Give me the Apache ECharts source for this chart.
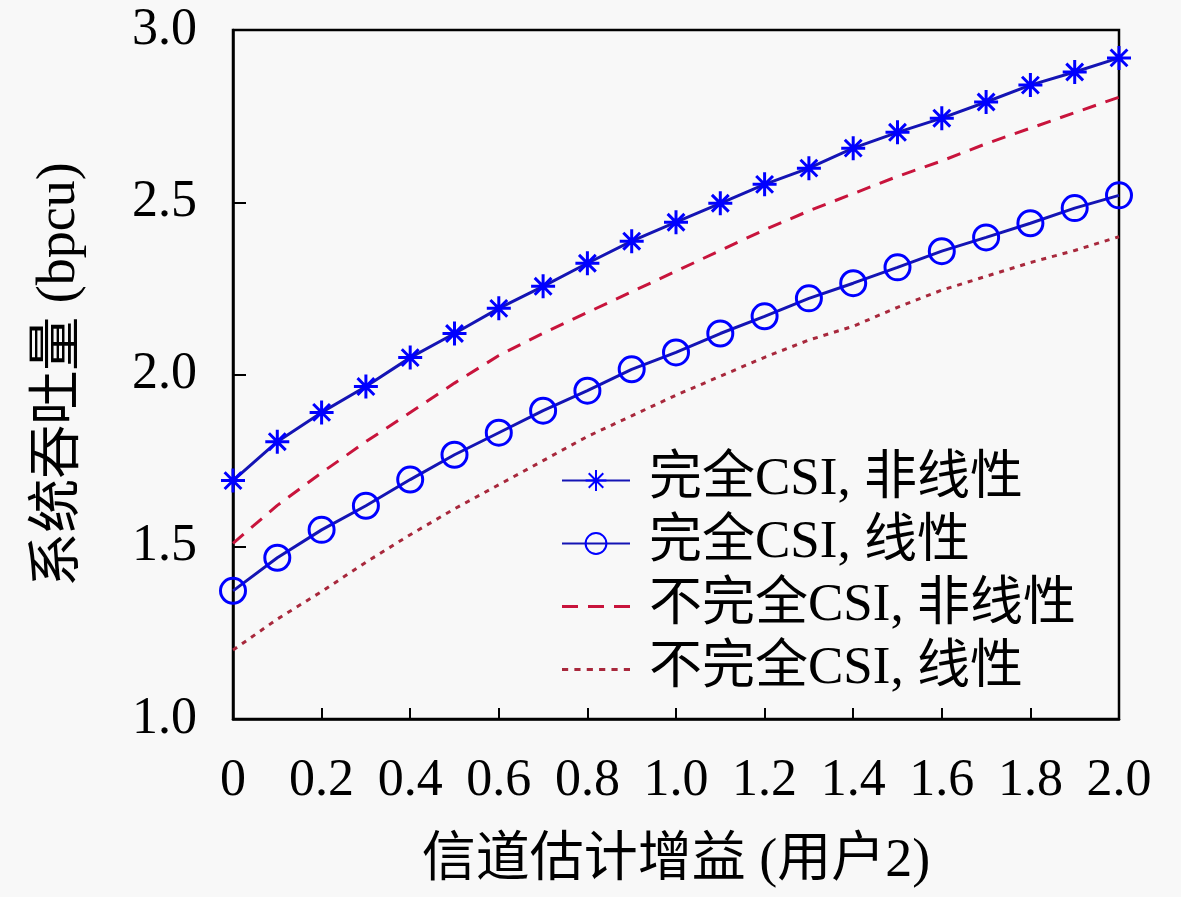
<!DOCTYPE html>
<html><head><meta charset="utf-8">
<script src="https://cdn.jsdelivr.net/npm/echarts@6/dist/echarts.min.js"></script>
<style>html,body{margin:0;padding:0;background:#f8f8f8;}#c{width:1181px;height:897px;}</style>
</head><body><div id="c"></div>
<script>
var xValues = [0,0.1,0.2,0.3,0.4,0.5,0.6,0.7,0.8,0.9,1.0,1.1,1.2,1.3,1.4,1.5,1.6,1.7,1.8,1.9,2.0];
var perfectNonlinear = [1.692,1.805,1.890,1.965,2.049,2.119,2.192,2.256,2.323,2.387,2.442,2.497,2.552,2.599,2.657,2.703,2.744,2.791,2.840,2.878,2.919];
var perfectLinear = [1.372,1.468,1.549,1.619,1.695,1.767,1.831,1.895,1.953,2.015,2.064,2.119,2.169,2.221,2.265,2.311,2.358,2.398,2.439,2.483,2.520];
var imperfectNonlinear = [1.51,1.62,1.715,1.805,1.89,1.975,2.055,2.12,2.18,2.24,2.30,2.36,2.42,2.475,2.525,2.575,2.62,2.67,2.715,2.76,2.805];
var imperfectLinear = [1.20,1.29,1.37,1.455,1.535,1.61,1.68,1.75,1.82,1.88,1.94,1.995,2.05,2.10,2.14,2.195,2.245,2.285,2.325,2.36,2.40];
var seriesNames = ['完全CSI, 非线性','完全CSI, 线性','不完全CSI, 非线性','不完全CSI, 线性'];
var xTitle = '信道估计增益 (用户2)';
var yTitle = '系统吞吐量 (bpcu)';

function pairs(ys){ return xValues.map(function(x,i){return [x, ys[i]];}); }
var FONT = '"Liberation Serif","Noto Sans CJK SC",serif';
var asterisk = 'path://M0,-10L0,10M-10,0L10,0M-7,-7L7,7M-7,7L7,-7';
var dashIcon = 'path://M0,0h16v3h-16zM26,0h16v3h-16zM52,0h16v3h-16z';
var dotIcon = 'path://M0,0h6v3h-6zM12,0h6v3h-6zM24,0h6v3h-6zM36,0h6v3h-6zM48,0h6v3h-6zM60,0h6v3h-6z';

var chart = echarts.init(document.getElementById('c'));
chart.setOption({
  backgroundColor: '#f8f8f8',
  animation: false,
  grid: {left: 233, right: 62, top: 30, bottom: 178, show: true, borderColor: '#000', borderWidth: 2.5, backgroundColor: 'transparent'},
  xAxis: {
    type: 'value', min: 0, max: 2, interval: 0.2,
    name: xTitle, nameLocation: 'middle', nameGap: 116,
    nameTextStyle: {fontFamily: FONT, fontSize: 54, color: '#000'},
    axisLine: {show: true, lineStyle: {color: '#000', width: 2.5}},
    axisTick: {show: true, inside: true, length: 11, lineStyle: {color: '#000', width: 2}},
    axisLabel: {fontFamily: FONT, fontSize: 52, color: '#000', margin: 36,
      formatter: function(v){ return v === 0 ? '0' : v.toFixed(1); }},
    splitLine: {show: false}
  },
  yAxis: {
    type: 'value', min: 1, max: 3, interval: 0.5,
    name: yTitle, nameLocation: 'middle', nameGap: 146, nameRotate: 90,
    nameTextStyle: {fontFamily: FONT, fontSize: 54, color: '#000'},
    axisLine: {show: true, lineStyle: {color: '#000', width: 2.5}},
    axisTick: {show: true, inside: true, length: 13, lineStyle: {color: '#000', width: 2}},
    axisLabel: {fontFamily: FONT, fontSize: 52, color: '#000', margin: 36,
      formatter: function(v){ return v.toFixed(1); }},
    splitLine: {show: false}
  },
  legend: {
    left: 556, top: 448, orient: 'vertical', itemWidth: 68, itemHeight: 26, itemGap: 8,
    textStyle: {fontFamily: FONT, fontSize: 53, color: '#000', lineHeight: 55, padding: [0,0,0,14]},
    data: [
      {name: seriesNames[0]},
      {name: seriesNames[1]},
      {name: seriesNames[2], icon: dashIcon, itemStyle: {color: '#c8143c'}},
      {name: seriesNames[3], icon: dotIcon, itemStyle: {color: '#a8283c'}}
    ]
  },
  series: [
    {name: seriesNames[0], type: 'line', data: pairs(perfectNonlinear),
      symbol: asterisk, symbolSize: 24, symbolKeepAspect: true,
      lineStyle: {color: '#1414b4', width: 3},
      itemStyle: {color: '#0000ff', borderColor: '#0000ff', borderWidth: 3}},
    {name: seriesNames[1], type: 'line', data: pairs(perfectLinear),
      symbol: 'circle', symbolSize: 25,
      lineStyle: {color: '#1414b4', width: 3},
      itemStyle: {color: 'rgba(0,0,0,0)', borderColor: '#0000ff', borderWidth: 3}},
    {name: seriesNames[2], type: 'line', data: pairs(imperfectNonlinear), showSymbol: false, symbol: 'none',
      lineStyle: {color: '#c8143c', width: 3, type: [14, 10]},
      itemStyle: {color: '#c8143c'}},
    {name: seriesNames[3], type: 'line', data: pairs(imperfectLinear), showSymbol: false, symbol: 'none',
      lineStyle: {color: '#a8283c', width: 3, type: [5, 6]},
      itemStyle: {color: '#a8283c'}}
  ]
});
</script></body></html>
